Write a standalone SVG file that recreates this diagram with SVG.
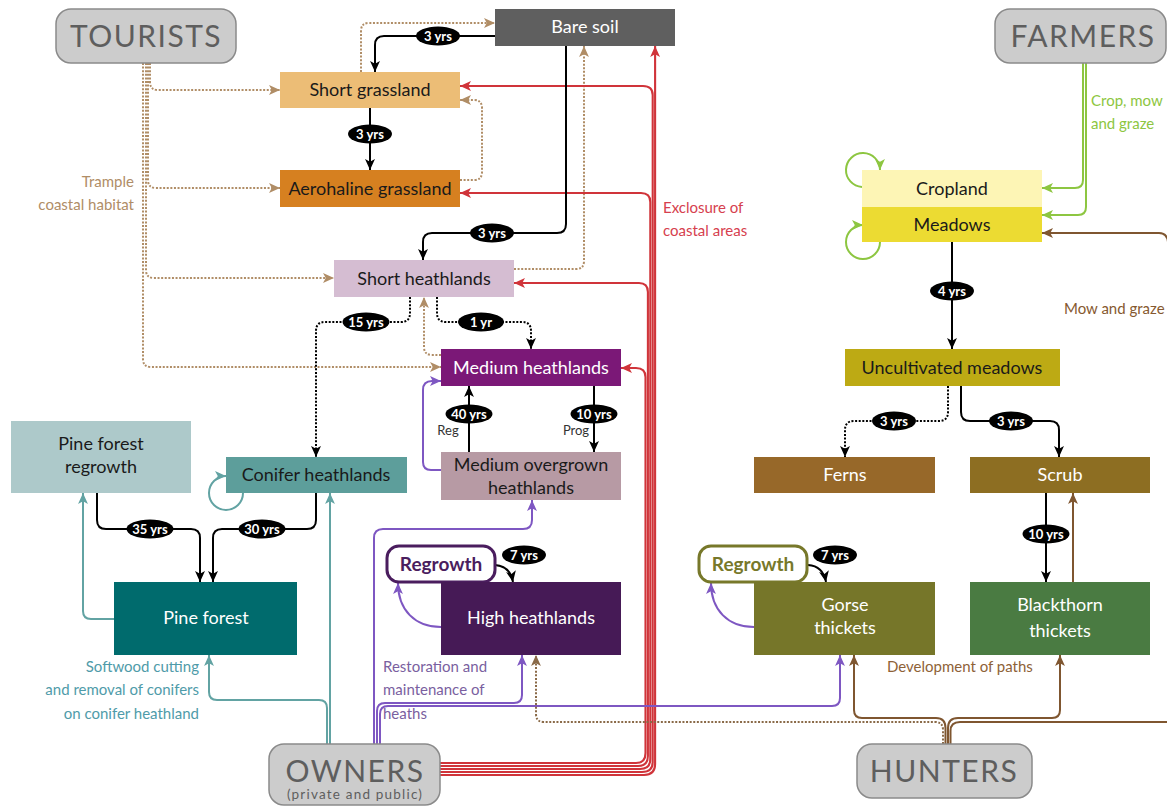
<svg xmlns="http://www.w3.org/2000/svg" width="1167" height="806" viewBox="0 0 1167 806">
<style>
text{font-family:Lato,"Open Sans","Liberation Sans",sans-serif}
.bx{font-size:18px;text-anchor:middle}
.dk{fill:#1a1a1a}
.wt{fill:#ffffff}
.act rect{fill:#cccccc;stroke:#8a8a8a;stroke-width:1.5}
.act text{fill:#5e5e5e;text-anchor:middle;font-size:30px;letter-spacing:1.5px}
.lbl ellipse{fill:#000}
.lbl text{fill:#fff;font-size:13px;font-weight:bold;text-anchor:middle}
.c{fill:none;stroke-width:2}
.k{stroke:#000}
.kd{stroke:#000;stroke-dasharray:2 1.6}
.t{stroke:#b08d66;stroke-dasharray:2 1.6}
.r{stroke:#d0343a;stroke-width:2.1}
.p{stroke:#7e57c2}
.te{stroke:#62a3a3}
.g{stroke:#8dc641}
.b{stroke:#7f5630}
.bd{stroke:#8a6a48;stroke-dasharray:2 1.6}
.note{font-size:15px}
</style>
<defs>
<marker id="mk" viewBox="0 0 10 10" refX="10" refY="5" markerWidth="11" markerHeight="11" markerUnits="userSpaceOnUse" orient="auto"><path d="M0,0.5 L10,5 L0,9.5 L2.5,5 z" fill="#000"/></marker>
<marker id="mt" viewBox="0 0 10 10" refX="10" refY="5" markerWidth="11" markerHeight="11" markerUnits="userSpaceOnUse" orient="auto"><path d="M0,0.5 L10,5 L0,9.5 L2.5,5 z" fill="#b08d66"/></marker>
<marker id="mr" viewBox="0 0 10 10" refX="10" refY="5" markerWidth="11" markerHeight="11" markerUnits="userSpaceOnUse" orient="auto"><path d="M0,0.5 L10,5 L0,9.5 L2.5,5 z" fill="#d0343a"/></marker>
<marker id="mp" viewBox="0 0 10 10" refX="10" refY="5" markerWidth="11" markerHeight="11" markerUnits="userSpaceOnUse" orient="auto"><path d="M0,0.5 L10,5 L0,9.5 L2.5,5 z" fill="#7e57c2"/></marker>
<marker id="mte" viewBox="0 0 10 10" refX="10" refY="5" markerWidth="11" markerHeight="11" markerUnits="userSpaceOnUse" orient="auto"><path d="M0,0.5 L10,5 L0,9.5 L2.5,5 z" fill="#62a3a3"/></marker>
<marker id="mg" viewBox="0 0 10 10" refX="10" refY="5" markerWidth="11" markerHeight="11" markerUnits="userSpaceOnUse" orient="auto"><path d="M0,0.5 L10,5 L0,9.5 L2.5,5 z" fill="#8dc641"/></marker>
<marker id="mb" viewBox="0 0 10 10" refX="10" refY="5" markerWidth="11" markerHeight="11" markerUnits="userSpaceOnUse" orient="auto"><path d="M0,0.5 L10,5 L0,9.5 L2.5,5 z" fill="#7f5630"/></marker>
<marker id="mbd" viewBox="0 0 10 10" refX="10" refY="5" markerWidth="11" markerHeight="11" markerUnits="userSpaceOnUse" orient="auto"><path d="M0,0.5 L10,5 L0,9.5 L2.5,5 z" fill="#8a6a48"/></marker>
</defs>
<rect width="1167" height="806" fill="#fff"/>

<g id="connectors">
<!-- tourists (tan dotted) -->
<path class="c t" marker-end="url(#mt)" d="M150,63 V82 Q150,90 158,90 H280"/>
<path class="c t" marker-end="url(#mt)" d="M148,63 V180 Q148,188 156,188 H280"/>
<path class="c t" marker-end="url(#mt)" d="M146,63 V270 Q146,278 154,278 H334"/>
<path class="c t" marker-end="url(#mt)" d="M143,63 V359 Q143,367 151,367 H441"/>
<path class="c t" marker-end="url(#mt)" d="M441,355 H432 Q424,355 424,347 V297"/>
<path class="c t" marker-end="url(#mt)" d="M514,269 H576 Q584,269 584,261 V46"/>
<path class="c t" marker-end="url(#mt)" d="M460,180 H474 Q482,180 482,172 V108 Q482,100 474,100 H460"/>
<path class="c t" marker-end="url(#mt)" d="M361,72 V31 Q361,23 369,23 H495"/>
<!-- red exclosure -->
<path class="c r" marker-end="url(#mr)" d="M440,763 H636 Q645.5,763 645.5,753 V377 Q645.5,368 636,368 H621"/>
<path class="c r" marker-end="url(#mr)" d="M440,766 H638 Q647.9,766 647.9,756 V292 Q647.9,283 639,283 H514"/>
<path class="c r" marker-end="url(#mr)" d="M440,769 H640 Q650.3,769 650.3,759 V202 Q650.3,193 641,193 H460"/>
<path class="c r" marker-end="url(#mr)" d="M440,772 H642 Q652.7,772 652.7,762 V95 Q652.7,86 643,86 H460"/>
<path class="c r" marker-end="url(#mr)" d="M440,775 H644 Q655.1,775 655.1,764 V46"/>
<!-- black solid -->
<path class="c k" marker-end="url(#mk)" d="M495,36 H384 Q375,36 375,45 V72"/>
<path class="c k" marker-end="url(#mk)" d="M370,108 V170"/>
<path class="c k" marker-end="url(#mk)" d="M566,46 V224 Q566,233 557,233 H432 Q423,233 423,242 V260"/>
<path class="c k" marker-end="url(#mk)" d="M469,452 V386"/>
<path class="c k" marker-end="url(#mk)" d="M594,386 V452"/>
<path class="c k" marker-end="url(#mk)" d="M97,493 V520 Q97,529 106,529 H191 Q200,529 200,538 V582"/>
<path class="c k" marker-end="url(#mk)" d="M316,493 V520 Q316,529 307,529 H222 Q213,529 213,538 V582"/>
<path class="c k" marker-end="url(#mk)" d="M952,242 V349"/>
<path class="c k" marker-end="url(#mk)" d="M961,386 V412 Q961,421 970,421 H1050 Q1059,421 1059,430 V457"/>
<path class="c k" marker-end="url(#mk)" d="M1046,493 V582"/>
<path class="c k" marker-end="url(#mk)" d="M495,565 Q510,566 513,582"/>
<path class="c k" marker-end="url(#mk)" d="M808,565 Q823,566 826,582"/>
<!-- black dotted -->
<path class="c kd" marker-end="url(#mk)" d="M410,297 V313 Q410,322 401,322 H325 Q316,322 316,331 V457"/>
<path class="c kd" marker-end="url(#mk)" d="M437,297 V313 Q437,322 446,322 H522 Q531,322 531,331 V349"/>
<path class="c kd" marker-end="url(#mk)" d="M948,386 V412 Q948,421 939,421 H854 Q845,421 845,430 V457"/>
<!-- purple -->
<path class="c p" marker-end="url(#mp)" d="M374,744 V538 Q374,529 383,529 H523 Q532,529 532,520 V500"/>
<path class="c p" marker-end="url(#mp)" d="M377,744 V711 Q377,703 385,703 H514 Q522,703 522,695 V655"/>
<path class="c p" marker-end="url(#mp)" d="M380,744 V714 Q380,706 388,706 H832 Q840,706 840,698 V655"/>
<path class="c p" marker-end="url(#mp)" d="M441,470 H431 Q423,470 423,462 V390 Q423,381 432,381 H441"/>
<path class="c p" marker-end="url(#mp)" d="M441,627 C415,627 398,610 398,583"/>
<path class="c p" marker-end="url(#mp)" d="M754,627 C728,627 711,610 711,583"/>
<!-- teal -->
<path class="c te" marker-end="url(#mte)" d="M330,744 V493"/>
<path class="c te" marker-end="url(#mte)" d="M327,744 V708 Q327,700 319,700 H217 Q209,700 209,692 V655"/>
<path class="c te" marker-end="url(#mte)" d="M114,619 H91 Q83,619 83,611 V493"/>
<path class="c te" marker-end="url(#mte)" d="M243,493 A17,17 0 1 1 226,476"/>
<!-- green -->
<path class="c g" marker-end="url(#mg)" d="M1083,63 V180 Q1083,188 1075,188 H1042"/>
<path class="c g" marker-end="url(#mg)" d="M1086,63 V207 Q1086,215 1078,215 H1042"/>
<path class="c g" marker-end="url(#mg)" d="M862,187 A17,17 0 1 1 880,170"/>
<path class="c g" marker-end="url(#mg)" d="M880,242 A17,17 0 1 1 863,225"/>
<!-- brown hunters -->
<path class="c bd" marker-end="url(#mbd)" d="M943,744 V730 Q943,722 935,722 H544 Q536,722 536,714 V655"/>
<path class="c b" marker-end="url(#mb)" d="M945.5,744 V728 Q945.5,718 936,718 H862 Q854,718 854,710 V655"/>
<path class="c b" marker-end="url(#mb)" d="M948,744 V728 Q948,718 958,718 H1052 Q1060,718 1060,710 V655"/>
<path class="c b" d="M950.5,744 V731 Q950.5,722 960,722 H1167"/>
<path class="c b" marker-end="url(#mb)" d="M1168,242 Q1167,233 1159,233 H1042"/>
<path class="c b" marker-end="url(#mb)" d="M1073,582 V493"/>
</g>

<g id="connector-labels">
<g class="lbl"><ellipse cx="438" cy="36" rx="22" ry="9.5"/><text x="438" y="40.5">3 yrs</text></g>
<g class="lbl"><ellipse cx="370" cy="134" rx="22" ry="9.5"/><text x="370" y="138.5">3 yrs</text></g>
<g class="lbl"><ellipse cx="492" cy="233" rx="22" ry="9.5"/><text x="492" y="237.5">3 yrs</text></g>
<g class="lbl"><ellipse cx="366" cy="322" rx="23.5" ry="9.5"/><text x="366" y="326.5">15 yrs</text></g>
<g class="lbl"><ellipse cx="481" cy="322" rx="23" ry="9.5"/><text x="481" y="326.5">1 yr</text></g>
<g class="lbl"><ellipse cx="469" cy="414" rx="23.5" ry="9.5"/><text x="469" y="418.5">40 yrs</text></g>
<g class="lbl"><ellipse cx="594" cy="414" rx="23.5" ry="9.5"/><text x="594" y="418.5">10 yrs</text></g>
<g class="lbl"><ellipse cx="150" cy="529" rx="23.5" ry="9.5"/><text x="150" y="533.5">35 yrs</text></g>
<g class="lbl"><ellipse cx="262" cy="529" rx="23.5" ry="9.5"/><text x="262" y="533.5">30 yrs</text></g>
<g class="lbl"><ellipse cx="524" cy="555" rx="22" ry="9.5"/><text x="524" y="559.5">7 yrs</text></g>
<g class="lbl"><ellipse cx="835" cy="555" rx="22" ry="9.5"/><text x="835" y="559.5">7 yrs</text></g>
<g class="lbl"><ellipse cx="952" cy="291" rx="22" ry="9.5"/><text x="952" y="295.5">4 yrs</text></g>
<g class="lbl"><ellipse cx="894" cy="421" rx="22" ry="9.5"/><text x="894" y="425.5">3 yrs</text></g>
<g class="lbl"><ellipse cx="1011" cy="421" rx="22" ry="9.5"/><text x="1011" y="425.5">3 yrs</text></g>
<g class="lbl"><ellipse cx="1046" cy="534" rx="23.5" ry="9.5"/><text x="1046" y="538.5">10 yrs</text></g>
<text x="448" y="435" font-size="13" fill="#333" text-anchor="middle">Reg</text>
<text x="576" y="435" font-size="13" fill="#333" text-anchor="middle">Prog</text>
<text class="note" x="134" y="187" fill="#b08d66" text-anchor="end">Trample</text>
<text class="note" x="134" y="210" fill="#b08d66" text-anchor="end">coastal habitat</text>
<text class="note" x="663" y="213" fill="#d6404e">Exclosure of</text>
<text class="note" x="663" y="236" fill="#d6404e">coastal areas</text>
<text class="note" x="1091" y="106" fill="#8dc641">Crop, mow</text>
<text class="note" x="1091" y="129" fill="#8dc641">and graze</text>
<text class="note" x="1064" y="314" fill="#86592f">Mow and graze</text>
<text class="note" x="199" y="672" fill="#4f9ba9" text-anchor="end">Softwood cutting</text>
<text class="note" x="199" y="695" fill="#4f9ba9" text-anchor="end">and removal of conifers</text>
<text class="note" x="199" y="719" fill="#4f9ba9" text-anchor="end">on conifer heathland</text>
<text class="note" x="383" y="672" fill="#7a5fa0">Restoration and</text>
<text class="note" x="383" y="695" fill="#7a5fa0">maintenance of</text>
<text class="note" x="383" y="719" fill="#7a5fa0">heaths</text>
<text class="note" x="887" y="672" fill="#8e6237">Development of paths</text>
</g>

<g id="tourists" class="act"><rect x="56" y="9" width="180" height="54" rx="15"/><text x="146" y="47">TOURISTS</text></g>
<g id="farmers" class="act"><rect x="995" y="9" width="171" height="54" rx="15"/><text x="1083" y="47">FARMERS</text></g>
<g id="owners" class="act"><rect x="269" y="744" width="171" height="61" rx="15"/><text x="355" y="782">OWNERS</text><text x="355" y="799" style="font-size:13.5px;letter-spacing:1.2px">(private and public)</text></g>
<g id="hunters" class="act"><rect x="857" y="744" width="175" height="54" rx="15"/><text x="944" y="782">HUNTERS</text></g>

<g id="bare-soil"><rect x="495" y="9" width="180" height="37" fill="#5f5f5f"/><text class="bx wt" x="585" y="33">Bare soil</text></g>
<g id="short-grassland"><rect x="280" y="72" width="180" height="36" fill="#ecbd76"/><text class="bx dk" x="370" y="96">Short grassland</text></g>
<g id="aerohaline-grassland"><rect x="280" y="170" width="180" height="37" fill="#d68020"/><text class="bx dk" x="370" y="194.5">Aerohaline grassland</text></g>
<g id="short-heathlands"><rect x="334" y="260" width="180" height="37" fill="#d5bdd2"/><text class="bx dk" x="424" y="284.5">Short heathlands</text></g>
<g id="medium-heathlands"><rect x="441" y="349" width="180" height="37" fill="#7b1877"/><text class="bx wt" x="531" y="373.5">Medium heathlands</text></g>
<g id="medium-overgrown-heathlands"><rect x="441" y="452" width="180" height="48" fill="#b79aa4"/><text class="bx dk" x="531" y="471">Medium overgrown</text><text class="bx dk" x="531" y="494">heathlands</text></g>
<g id="conifer-heathlands"><rect x="226" y="457" width="181" height="36" fill="#5d9e9b"/><text class="bx dk" x="316" y="481">Conifer heathlands</text></g>
<g id="pine-forest-regrowth"><rect x="11" y="421" width="180" height="72" fill="#adc9ca"/><text class="bx dk" x="101" y="450">Pine forest</text><text class="bx dk" x="101" y="473">regrowth</text></g>
<g id="pine-forest"><rect x="114" y="582" width="183" height="73" fill="#006b6d"/><text class="bx wt" x="206" y="624">Pine forest</text></g>
<g id="regrowth-heath"><rect x="387" y="546" width="108" height="36" rx="12" fill="#fff" stroke="#4a1d5e" stroke-width="3"/><text x="441" y="570.5" font-size="19" font-weight="bold" fill="#4a1d5e" text-anchor="middle">Regrowth</text></g>
<g id="high-heathlands"><rect x="441" y="582" width="180" height="73" fill="#461a56"/><text class="bx wt" x="531" y="624">High heathlands</text></g>
<g id="regrowth-gorse"><rect x="699" y="546" width="108" height="36" rx="12" fill="#fff" stroke="#77782a" stroke-width="3"/><text x="753" y="570.5" font-size="19" font-weight="bold" fill="#77782a" text-anchor="middle">Regrowth</text></g>
<g id="gorse-thickets"><rect x="754" y="582" width="181" height="73" fill="#767629"/><text class="bx wt" x="845" y="611">Gorse</text><text class="bx wt" x="845" y="634">thickets</text></g>
<g id="blackthorn-thickets"><rect x="970" y="582" width="180" height="73" fill="#4a7b42"/><text class="bx wt" x="1060" y="611">Blackthorn</text><text class="bx wt" x="1060" y="637">thickets</text></g>
<g id="ferns"><rect x="754" y="457" width="181" height="36" fill="#976829"/><text class="bx wt" x="845" y="481">Ferns</text></g>
<g id="scrub"><rect x="970" y="457" width="180" height="36" fill="#8d6e22"/><text class="bx wt" x="1060" y="481">Scrub</text></g>
<g id="uncultivated-meadows"><rect x="845" y="349" width="215" height="37" fill="#bdaa14"/><text class="bx dk" x="952" y="373.5">Uncultivated meadows</text></g>
<g id="cropland"><rect x="862" y="170" width="180" height="37" fill="#fdf5b5"/><text class="bx dk" x="952" y="195">Cropland</text></g>
<g id="meadows"><rect x="862" y="207" width="180" height="35" fill="#ecdb32"/><text class="bx dk" x="952" y="230.5">Meadows</text></g>
</svg>
